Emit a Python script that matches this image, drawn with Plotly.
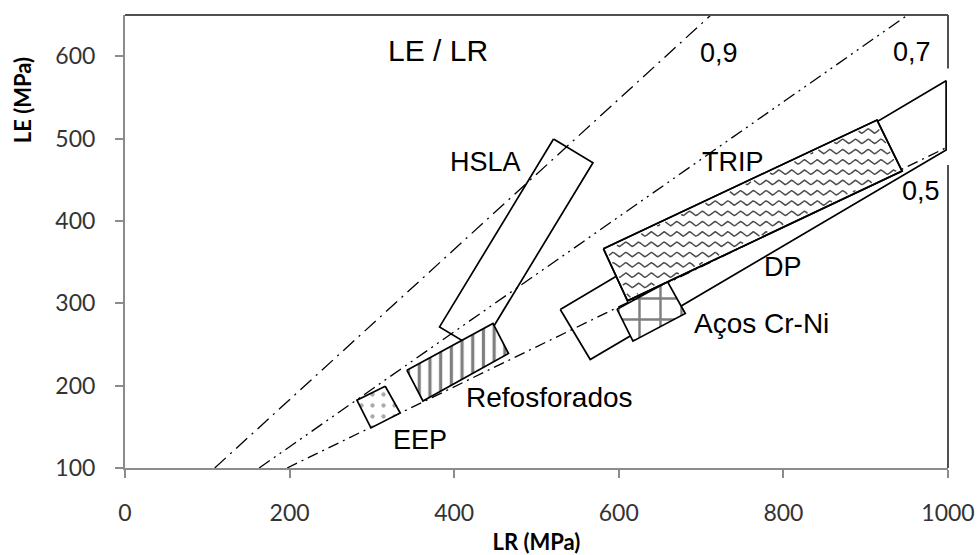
import numpy as np
import plotly.graph_objects as go

# Axis ticks
x_ticks = [0, 200, 400, 600, 800, 1000]
y_ticks = [100, 200, 300, 400, 500, 600]

# LE/LR ratio guide lines (LR, LE end points)
ratio_labels = ["0,9", "0,7", "0,5"]
ratio_lr = [[109, 712], [163, 951], [197, 1000]]
ratio_le = [[100, 650], [100, 650], [100, 490]]

# Steel family regions (corner points, LR / LE in MPa)
hsla_lr = [520.7, 568.6, 430.1, 382.2]
hsla_le = [499.4, 470.6, 242.5, 271.3]

dp_lr = [528.9, 997.7, 997.7, 565.3]
dp_le = [292.5, 570.2, 486.0, 231.7]

refos_lr = [342.5, 447.1, 466.0, 362.0]
refos_le = [218.7, 275.5, 239.0, 181.4]

eep_lr = [316.2, 334.4, 298.8, 281.8]
eep_le = [199.3, 166.8, 148.6, 182.3]

crni_lr = [597.8, 659.3, 680.8, 617.2]
crni_le = [292.8, 326.0, 287.6, 254.0]

trip_lr = [581.3, 913.8, 944.2, 610.6]
trip_le = [366.3, 522.5, 460.5, 302.9]

LABEL_FONT = "Liberation Sans, Arial, sans-serif"
TICK_FONT = "Lato, Carlito, Calibri, sans-serif"


def closed(v):
    return list(v) + [v[0]]


def inside(px, py, xs, ys, margin):
    """Mask of points lying inside a convex polygon, at least `margin` from its edges."""
    n = len(xs)
    area = 0.0
    for i in range(n):
        j = (i + 1) % n
        area += xs[i] * ys[j] - xs[j] * ys[i]
    sgn = 1.0 if area > 0 else -1.0
    ok = np.ones_like(px, dtype=bool)
    for i in range(n):
        j = (i + 1) % n
        ex, ey = xs[j] - xs[i], ys[j] - ys[i]
        L = np.hypot(ex, ey)
        d = sgn * (ex * (py - ys[i]) - ey * (px - xs[i])) / L
        ok &= d > margin
    return ok


def wave_texture(xs, ys, spacing=12.5, period=15.5, amp=2.6, margin=2.5):
    """Horizontal wavy hatching clipped to a polygon."""
    out_x, out_y = [], []
    t = np.arange(min(xs), max(xs), 0.4)
    for y0 in np.arange(min(ys) + spacing / 2, max(ys), spacing):
        wy = y0 + amp * np.sin(2 * np.pi * t / period)
        m = inside(t, wy, xs, ys, margin)
        out_x.extend([float(a) if k else None for a, k in zip(t, m)] + [None])
        out_y.extend([float(b) if k else None for b, k in zip(wy, m)] + [None])
    return out_x, out_y


fig = go.Figure()

# Ratio lines
dashes = ["15px,6px,2px,6px", "13px,5px,2px,5px,2px,5px", "11px,5px,2px,5px"]
for name, lx, ly, dsh in zip(ratio_labels, ratio_lr, ratio_le, dashes):
    fig.add_trace(go.Scatter(x=lx, y=ly, mode="lines", name=name,
                             line=dict(color="black", width=1.3, dash=dsh),
                             hoverinfo="skip"))

edge = dict(color="black", width=1.7)

# Outline-only regions
for name, bx, by in [("DP", dp_lr, dp_le), ("HSLA", hsla_lr, hsla_le)]:
    fig.add_trace(go.Scatter(x=closed(bx), y=closed(by), mode="lines", name=name,
                             line=edge, hoverinfo="skip"))

# Patterned regions
fig.add_trace(go.Scatter(x=closed(refos_lr), y=closed(refos_le), mode="lines",
                         name="Refosforados", fill="toself", line=edge,
                         fillcolor="white",
                         fillpattern=dict(shape="|", size=10.7, solidity=0.3,
                                          fgcolor="black", bgcolor="white"),
                         hoverinfo="skip"))
fig.add_trace(go.Scatter(x=closed(eep_lr), y=closed(eep_le), mode="lines",
                         name="EEP", fill="toself", line=edge,
                         fillcolor="white",
                         fillpattern=dict(shape=".", size=11, solidity=0.12,
                                          fgcolor="#555555", bgcolor="white"),
                         hoverinfo="skip"))
fig.add_trace(go.Scatter(x=closed(crni_lr), y=closed(crni_le), mode="lines",
                         name="Aços Cr-Ni", fill="toself", line=edge,
                         fillcolor="white",
                         fillpattern=dict(shape="+", size=21, solidity=0.22,
                                          fgcolor="black", bgcolor="white"),
                         hoverinfo="skip"))
fig.add_trace(go.Scatter(x=closed(trip_lr), y=closed(trip_le), mode="lines",
                         name="TRIP", fill="toself", line=edge,
                         fillcolor="white", hoverinfo="skip"))
wx, wy = wave_texture(trip_lr, trip_le)
fig.add_trace(go.Scatter(x=wx, y=wy, mode="lines", name="TRIP textura",
                         line=dict(color="#4d4d4d", width=1.5),
                         connectgaps=False, hoverinfo="skip"))
fig.add_trace(go.Scatter(x=closed(trip_lr), y=closed(trip_le), mode="lines",
                         name="TRIP contorno", line=edge, hoverinfo="skip"))

# Text labels
labels = [
    ("LE / LR", 380, 607.5, 30),
    ("0,9", 722, 604, 27),
    ("0,7", 956, 605, 27),
    ("0,5", 967, 436, 27),
    ("HSLA", 438, 472, 27),
    ("TRIP", 739, 472, 27),
    ("DP", 800, 344, 27),
    ("Aços Cr-Ni", 773, 275, 28),
    ("Refosforados", 516, 185, 28),
    ("EEP", 358, 134, 27),
]
for txt, ax_, ay_, fs in labels:
    fig.add_annotation(x=ax_, y=ay_, text=txt, showarrow=False,
                       font=dict(family=LABEL_FONT, size=fs, color="black"),
                       xanchor="center", yanchor="middle")

# Vertical axis title, placed toward the top of the axis
fig.add_annotation(xref="paper", yref="paper", x=-0.125, y=0.812,
                   text="<b>LE (MPa)</b>", textangle=-90, showarrow=False,
                   font=dict(family=TICK_FONT, size=22, color="black"),
                   xanchor="center", yanchor="middle")

# Plot-area frame: dark top and right edges
frame = dict(color="#505050", width=2)
fig.add_shape(type="line", xref="paper", yref="paper", x0=0, x1=1, y0=1, y1=1, line=frame)
fig.add_shape(type="line", xref="paper", yref="y", x0=1, x1=1, y0=650, y1=585, line=frame)
fig.add_shape(type="line", xref="paper", yref="y", x0=1, x1=1, y0=468, y1=100, line=frame)

axis_common = dict(
    showgrid=False, zeroline=False, showline=True, linecolor="#8c8c8c", linewidth=2,
    ticks="outside", ticklen=8, tickwidth=2, tickcolor="#8c8c8c", automargin=False,
    tickfont=dict(family=TICK_FONT, size=23, color="#333333"),
)

fig.update_layout(
    width=979, height=555,
    margin=dict(l=125, r=31, t=15, b=87, autoexpand=False),
    paper_bgcolor="white", plot_bgcolor="white",
    showlegend=False,
    xaxis=dict(range=[0, 1000], tickvals=x_ticks, ticklabelstandoff=15,
               title=dict(text="<b>LR (MPa)</b>", standoff=19,
                          font=dict(family=TICK_FONT, size=22, color="black")),
               **axis_common),
    yaxis=dict(range=[100, 650], tickvals=y_ticks, ticklabelstandoff=15,
               **axis_common),
)

fig.write_html("out.html")
